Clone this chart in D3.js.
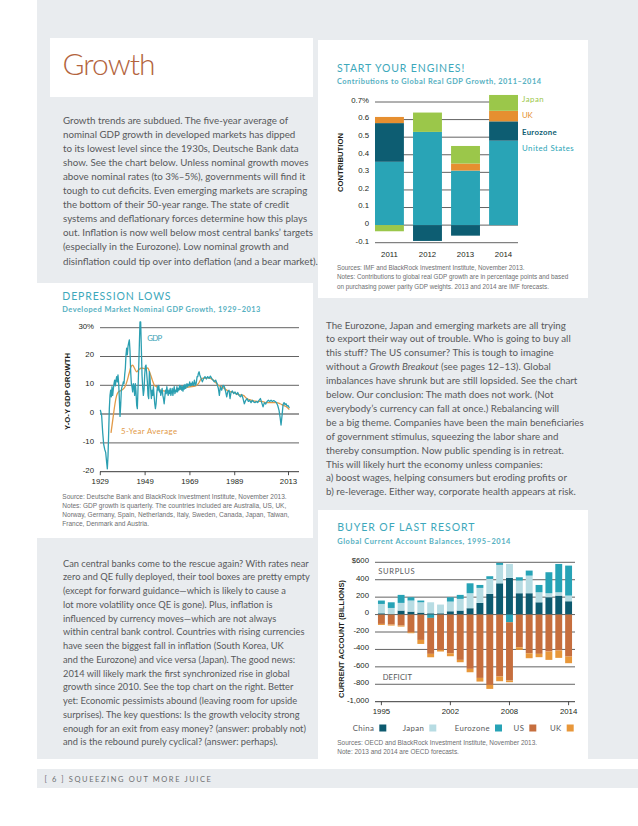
<!DOCTYPE html>
<html><head><meta charset="utf-8">
<script src="https://cdn.jsdelivr.net/npm/d3@7/dist/d3.min.js"></script>
<style>
html,body{margin:0;padding:0;background:#fff;}
svg{display:block;}
</style></head><body>
<svg id="page" width="638" height="826"></svg>
<script>
// ================= DATA =================
// Chart 1: Start your engines
const engineYears = ["2011", "2012", "2013", "2014"];
const engineSeries = ["United States", "Eurozone", "UK", "Japan"];
const engineUS = [0.36, 0.53, 0.31, 0.48];
const engineEurozone = [0.22, -0.09, -0.06, 0.11];
const engineUK = [0.035, 0, 0.04, 0.06];
const engineJapan = [-0.035, 0.11, 0.10, 0.09];
const engineTicks = [-0.1, 0, 0.1, 0.2, 0.3, 0.4, 0.5, 0.6, 0.7];
const engineTickLabels = ["-0.1", "0", "0.1", "0.2", "0.3", "0.4", "0.5", "0.6", "0.7%"];

// Chart 2: Depression lows (quarterly GDP growth)
const gdpYears = [1929.0,1929.6,1930.06,1930.5,1930.95,1931.4,1931.84,1932.14,1932.44,1932.74,1933.03,1933.33,1933.63,1933.93,1934.22,1934.52,1934.82,1935.12,1935.41,1935.71,1936.01,1936.31,1936.6,1936.9,1937.2,1937.5,1937.8,1938.09,1938.39,1938.69,1938.99,1939.28,1939.58,1939.88,1940.18,1940.47,1940.77,1941.07,1941.37,1941.66,1941.96,1942.26,1942.56,1942.86,1943.15,1943.45,1943.75,1944.05,1944.34,1944.64,1944.94,1945.24,1945.53,1945.83,1946.13,1946.43,1946.72,1947.02,1947.32,1947.62,1947.91,1948.21,1948.51,1948.81,1949.1,1949.4,1949.7,1950.0,1950.3,1950.6,1950.9,1951.2,1951.5,1951.8,1952.1,1952.4,1952.7,1953.0,1953.3,1953.6,1953.9,1954.2,1954.5,1954.8,1955.1,1955.4,1955.7,1956.0,1956.3,1956.6,1956.9,1957.2,1957.5,1957.8,1958.1,1958.4,1958.7,1959.0,1959.3,1959.6,1959.9,1960.2,1960.5,1960.8,1961.1,1961.4,1961.7,1962.0,1962.3,1962.6,1962.9,1963.2,1963.5,1963.8,1964.1,1964.4,1964.7,1965.0,1965.3,1965.6,1965.9,1966.2,1966.5,1966.8,1967.1,1967.4,1967.7,1968.0,1968.3,1968.6,1968.9,1969.2,1969.5,1969.8,1970.1,1970.4,1970.7,1971.0,1971.3,1971.6,1971.9,1972.2,1972.5,1972.8,1973.1,1973.4,1973.96,1974.55,1975.15,1975.74,1976.34,1976.93,1977.53,1978.13,1978.72,1979.32,1979.91,1980.51,1981.1,1981.7,1982.14,1982.59,1983.18,1983.78,1984.38,1984.97,1985.42,1985.86,1986.46,1986.9,1987.35,1987.95,1988.54,1989.14,1989.73,1990.33,1990.92,1991.52,1992.11,1992.71,1993.3,1993.9,1994.49,1995.09,1995.68,1996.28,1996.88,1997.47,1998.07,1998.66,1999.26,1999.85,2000.45,2001.04,2001.64,2002.23,2002.83,2003.42,2004.02,2004.61,2005.21,2005.8,2006.4,2007.0,2007.59,2008.19,2008.78,2009.23,2009.67,2010.12,2010.57,2011.01,2011.46,2011.9,2012.35,2012.8,2013.39];
const gdpValues = [1.5,-0.5,-6.3,-10.4,-12.2,-13.3,-16.8,-19.0,-14.5,-6.3,1.9,6.5,8.3,6.0,9.5,6.5,8.7,10.6,11.8,9.8,11.8,13.0,11.2,13.6,10.6,5.4,-0.8,3.0,8.3,9.5,10.0,11.2,10.6,13.6,15.9,20.6,22.9,20.6,23.5,24.7,25.8,21.8,14.7,10.6,9.5,7.7,10.6,9.5,6.5,10.6,7.7,3.0,1.9,8.9,15.9,24.1,32.0,32.0,22.9,13.6,9.5,6.5,8.3,13.6,16.5,17.0,14.2,11.2,6.5,5.4,14.7,12.4,8.3,5.4,8.3,6.5,9.5,6.5,3.6,1.9,3.6,7.1,9.5,8.3,10.0,7.7,8.3,6.5,7.7,8.9,6.5,5.4,3.6,6.0,8.3,7.1,9.5,7.7,6.5,8.3,7.1,8.9,6.5,7.7,8.9,6.5,8.3,9.5,7.1,8.3,7.7,9.5,7.7,8.9,8.3,10.0,8.7,9.8,8.3,9.5,8.0,10.0,8.7,10.3,8.9,9.7,10.6,9.5,10.3,10.0,11.2,9.8,10.6,10.0,11.2,10.3,10.0,11.8,10.6,10.0,11.2,13.0,13.0,14.2,14.7,13.6,12.4,11.2,12.4,13.0,12.2,13.0,12.4,13.2,12.4,11.8,11.2,11.8,10.6,8.9,6.5,9.5,8.3,10.0,9.5,7.7,6.0,7.7,8.3,5.4,7.5,8.0,7.1,7.7,6.8,7.5,6.5,6.0,6.8,5.4,3.6,4.8,5.4,4.4,4.8,4.0,4.8,4.2,4.0,4.4,4.0,4.8,5.4,4.0,2.5,4.0,3.5,4.4,4.8,4.4,4.8,4.4,4.7,4.4,4.0,3.0,1.3,-1.0,-3.8,-0.5,3.3,4.0,3.3,3.6,2.8,3.0,2.1];
const avgYears = [1933.78,1934.82,1935.56,1936.31,1937.05,1938.54,1940.03,1941.07,1941.81,1942.71,1943.45,1944.19,1945.24,1945.98,1947.47,1948.96,1950.15,1951.19,1952.23,1953.12,1954.16,1955.65,1957.88,1960.12,1962.35,1964.58,1966.81,1969.04,1971.28,1972.77,1974.26,1977.23,1979.46,1981.7,1983.93,1986.16,1988.39,1990.63,1992.86,1994.35,1996.58,1998.81,2001.04,2003.27,2005.51,2007.74,2009.23,2010.72,2012.2,2013.39];
const avgValues = [-6.5,-0.5,3.6,6.5,7.7,8.3,9.5,11.8,14.0,16.5,17.0,16.0,14.7,15.3,16.0,15.7,16.0,14.2,11.8,10.0,9.5,8.3,8.0,7.7,8.0,8.7,9.1,9.5,9.7,10.6,12.4,12.6,11.8,10.0,9.1,8.0,7.5,6.8,6.5,5.4,4.8,4.4,4.4,4.0,4.0,4.0,3.6,3.0,2.5,1.6];
const gdpTicks = [-20, -10, 0, 10, 20, 30];
const gdpTickLabels = ["-20", "-10", "0", "10", "20", "30%"];
const gdpXTicks = [1929, 1949, 1969, 1989, 2013];

// Chart 3: Buyer of last resort ($ billions)
const caYears = [1995,1996,1997,1998,1999,2000,2001,2002,2003,2004,2005,2006,2007,2008,2009,2010,2011,2012,2013,2014];
const caSeries = ["China", "Japan", "Eurozone", "US", "UK"];
const caChina    = [15, 5, 46, 34, 23, 15, 15, 38, 46, 73, 134, 237, 359, 421, 245, 245, 141, 199, 218, 153];
const caJapan    = [107, 71, 88, 127, 118, 126, 100, 111, 134, 172, 172, 172, 211, 160, 145, 202, 115, 46, 38, 65];
const caEurozone = [39, 65, 92, 38, 20, -38, 0, 50, 46, 114, 34, 31, 23, -88, 38, 58, 84, 241, 325, 344];
const caUS       = [-107, -115, -126, -203, -291, -413, -405, -444, -520, -623, -727, -807, -711, -669, -375, -444, -451, -424, -413, -482];
const caUK       = [-12, -11, -12, -11, -46, -39, -19, -34, -27, -39, -42, -46, -54, -19, -30, -57, -38, -96, -84, -76];
const caTicks = [-1000, -800, -600, -400, -200, 0, 200, 400, 600];
const caTickLabels = ["-1,000", "-800", "-600", "-400", "-200", "0", "200", "400", "$600"];
const caXTicks = [1995, 2002, 2008, 2014];

// ================= STYLE =================
const GRAY = "#e9ecef";
const BODY = "Lato, 'Open Sans', 'Noto Sans', sans-serif";
const CHART = "'Liberation Sans', Arial, sans-serif";
const NARROW = "'Liberation Sans Narrow', 'Arial Narrow', 'Liberation Sans', sans-serif";
const TEAL_T = "#3da8bb";
const INK = "#231f20";
const engineColors = {"United States": "#29a4b6", "Eurozone": "#0d5d72", "UK": "#e68f30", "Japan": "#9bc74a"};
const caColors = {"China": "#0d5a6f", "Japan": "#b7dce3", "Eurozone": "#27a3b6", "US": "#c66e3e", "UK": "#e8973a"};

const svg = d3.select("#page");

function T(g, x, y, s, o) {
  const t = g.append("text").attr("x", x).attr("y", y).text(s);
  if (o) for (const k in o) t.attr(k, o[k]);
  return t;
}
function fit(t, w, mode) { t.attr("textLength", w).attr("lengthAdjust", mode || "spacingAndGlyphs"); return t; }

function para(lines, x, y0, lh, refIdx, refW, opts) {
  const g = svg.append("g").attr("font-family", opts.family).attr("fill", opts.fill).attr("font-size", 10);
  const nodes = lines.map((ln, i) => {
    const t = g.append("text").attr("x", x).attr("y", y0 + i * lh);
    if (Array.isArray(ln)) {
      ln.forEach(seg => t.append("tspan").attr("font-style", seg[1] ? "italic" : null).text(seg[0]));
    } else t.text(ln);
    return t;
  });
  const len = nodes[refIdx].node().getComputedTextLength();
  g.attr("font-size", 10 * refW / len);
  return g;
}

// ================= PAGE BACKGROUND =================
svg.append("rect").attr("width", 638).attr("height", 826).attr("fill", "#fff");
svg.append("rect").attr("x", 37).attr("y", 0).attr("width", 601).attr("height", 759).attr("fill", GRAY);
svg.append("rect").attr("x", 37).attr("y", 769).attr("width", 601).attr("height", 19).attr("fill", GRAY);
svg.append("rect").attr("x", 50).attr("y", 38).attr("width", 263).attr("height", 59).attr("fill", "#fff");
svg.append("rect").attr("x", 37).attr("y", 283).attr("width", 276).attr("height", 255).attr("fill", "#fff");
svg.append("rect").attr("x", 318).attr("y", 40).attr("width", 270).attr("height", 258).attr("fill", "#fff");
svg.append("rect").attr("x", 318).attr("y", 510).attr("width", 270).attr("height", 250).attr("fill", "#fff");

// ================= HEADLINE & TEXT =================
fit(T(svg, 62.5, 75, "Growth", {"font-family": BODY, "font-weight": 300, "font-size": 30, fill: "#b3643d"}), 93, "spacing");

const bodyOpts = {family: BODY, fill: "#58595b"};
para([
  "Growth trends are subdued. The five-year average of",
  "nominal GDP growth in developed markets has dipped",
  "to its lowest level since the 1930s, Deutsche Bank data",
  "show. See the chart below. Unless nominal growth moves",
  "above nominal rates (to 3%–5%), governments will find it",
  "tough to cut deficits. Even emerging markets are scraping",
  "the bottom of their 50-year range. The state of credit",
  "systems and deflationary forces determine how this plays",
  "out. Inflation is now well below most central banks’ targets",
  "(especially in the Eurozone). Low nominal growth and",
  "disinflation could tip over into deflation (and a bear market)."
], 63, 123.5, 14.1, 3, 246, bodyOpts);

para([
  "Can central banks come to the rescue again? With rates near",
  "zero and QE fully deployed, their tool boxes are pretty empty",
  "(except for forward guidance—which is likely to cause a",
  "lot more volatility once QE is gone). Plus, inflation is",
  "influenced by currency moves—which are not always",
  "within central bank control. Countries with rising currencies",
  "have seen the biggest fall in inflation (South Korea, UK",
  "and the Eurozone) and vice versa (Japan). The good news:",
  "2014 will likely mark the first synchronized rise in global",
  "growth since 2010. See the top chart on the right. Better",
  "yet: Economic pessimists abound (leaving room for upside",
  "surprises). The key questions: Is the growth velocity strong",
  "enough for an exit from easy money? (answer: probably not)",
  "and is the rebound purely cyclical? (answer: perhaps)."
], 63, 566.5, 13.75, 0, 246, bodyOpts);

para([
  "The Eurozone, Japan and emerging markets are all trying",
  "to export their way out of trouble. Who is going to buy all",
  "this stuff? The US consumer? This is tough to imagine",
  [["without a "], ["Growth Breakout", true], [" (see pages 12–13). Global"]],
  "imbalances have shrunk but are still lopsided. See the chart",
  "below. Our conclusion: The math does not work. (Not",
  "everybody’s currency can fall at once.) Rebalancing will",
  "be a big theme. Companies have been the main beneficiaries",
  "of government stimulus, squeezing the labor share and",
  "thereby consumption. Now public spending is in retreat.",
  "This will likely hurt the economy unless companies:",
  "a) boost wages, helping consumers but eroding profits or",
  "b) re-leverage. Either way, corporate health appears at risk."
], 326, 328.5, 13.9, 12, 250, bodyOpts);

// footer
fit(T(svg, 44.5, 782, "[ 6 ]   SQUEEZING OUT MORE JUICE", {"font-family": BODY, "font-size": 7.5, fill: "#6d6e70", "letter-spacing": 1.6}), 168, "spacing");

// ================= CHART 1: START YOUR ENGINES =================
(function () {
  const g = svg.append("g");
  fit(T(g, 337, 72, "START YOUR ENGINES!", {"font-family": BODY, "font-size": 10.5, fill: TEAL_T, "letter-spacing": 0.8}), 128, "spacing");
  fit(T(g, 337, 84, "Contributions to Global Real GDP Growth, 2011–2014", {"font-family": BODY, "font-size": 7.4, "font-weight": 700, fill: "#55b0c1"}), 204, "spacing");

  const x = d3.scaleBand().domain(engineYears).range([375, 518]).paddingInner(0.24).paddingOuter(0);
  const y = d3.scaleLinear().domain([-0.1, 0.7]).range([242.7, 102]);

  g.selectAll("line.grid").data(engineTicks).join("line")
    .attr("x1", 375).attr("x2", 518).attr("y1", d => y(d)).attr("y2", d => y(d))
    .attr("stroke", "#3b3b3b").attr("stroke-width", 0.8);
  g.selectAll("text.tick").data(engineTicks).join("text")
    .attr("x", 369).attr("y", d => y(d) + 0.8).attr("text-anchor", "end")
    .attr("font-family", CHART).attr("font-size", 7.8).attr("fill", INK)
    .text((d, i) => engineTickLabels[i]);

  const rows = engineYears.map((yr, i) => ({year: yr, "United States": engineUS[i], "Eurozone": engineEurozone[i], "UK": engineUK[i], "Japan": engineJapan[i]}));
  const stacked = d3.stack().keys(engineSeries).offset(d3.stackOffsetDiverging)(rows);
  g.selectAll("g.ser").data(stacked).join("g").attr("fill", s => engineColors[s.key])
    .selectAll("rect").data(s => s).join("rect")
    .attr("x", d => x(d.data.year)).attr("width", x.bandwidth())
    .attr("y", d => y(Math.max(d[0], d[1]))).attr("height", d => Math.abs(y(d[0]) - y(d[1])));

  g.selectAll("text.yr").data(engineYears).join("text")
    .attr("x", d => x(d) + x.bandwidth() / 2).attr("y", 257).attr("text-anchor", "middle")
    .attr("font-family", CHART).attr("font-size", 7.8).attr("fill", INK).text(d => d);

  fit(T(g, 0, 0, "CONTRIBUTION", {"font-family": CHART, "font-size": 7.4, "font-weight": 700, fill: INK, "text-anchor": "middle", transform: "translate(342.5,162.5) rotate(-90)"}), 59);

  const legendY = [151, 135, 118, 102];
  const legendW = [52, 35, 11, 22];
  engineSeries.forEach((s, i) => {
    fit(T(g, 522, legendY[i], s, {"font-family": BODY, "font-size": 7.8, fill: engineColors[s], "font-weight": s === "Eurozone" ? 700 : 400, "letter-spacing": 0.3}), legendW[i], "spacing");
  });

  const src = para([
    "Sources: IMF and BlackRock Investment Institute, November 2013.",
    "Notes: Contributions to global real GDP growth are in percentage points and based",
    "on purchasing power parity GDP weights. 2013 and 2014 are IMF forecasts."
  ], 337, 269.5, 9.7, 1, 232, {family: NARROW, fill: "#6d6e70"});
})();

// ================= CHART 2: DEPRESSION LOWS =================
(function () {
  const g = svg.append("g");
  fit(T(g, 62.3, 300, "DEPRESSION LOWS", {"font-family": BODY, "font-size": 10.5, fill: TEAL_T, "letter-spacing": 0.8}), 109, "spacing");
  fit(T(g, 62.3, 312, "Developed Market Nominal GDP Growth, 1929–2013", {"font-family": BODY, "font-size": 7.4, "font-weight": 700, fill: "#55b0c1"}), 198, "spacing");

  const x = d3.scaleLinear().domain([1929, 2013]).range([100.3, 288.5]);
  const y = d3.scaleLinear().domain([-20, 30]).range([471.7, 327.7]);

  g.selectAll("line.grid").data(gdpTicks.filter(d => d !== 0 && d !== -20)).join("line")
    .attr("x1", 100).attr("x2", 299).attr("y1", d => y(d)).attr("y2", d => y(d))
    .attr("stroke", "#3b3b3b").attr("stroke-width", 0.8);
  g.append("line").attr("x1", 100).attr("x2", 299).attr("y1", y(0)).attr("y2", y(0))
    .attr("stroke", "#9d9d9d").attr("stroke-width", 2);
  g.append("line").attr("x1", 100).attr("x2", 299).attr("y1", y(-20)).attr("y2", y(-20))
    .attr("stroke", "#222").attr("stroke-width", 0.9);
  g.selectAll("line.xt").data(gdpXTicks).join("line")
    .attr("x1", d => x(d)).attr("x2", d => x(d)).attr("y1", y(-20)).attr("y2", y(-20) + 3.5)
    .attr("stroke", "#222").attr("stroke-width", 0.8);

  g.selectAll("text.tick").data(gdpTicks).join("text")
    .attr("x", 94).attr("y", d => y(d) + 0.8).attr("text-anchor", "end")
    .attr("font-family", CHART).attr("font-size", 7.8).attr("fill", INK)
    .text((d, i) => gdpTickLabels[i]);
  g.selectAll("text.xl").data(gdpXTicks).join("text")
    .attr("x", d => x(d)).attr("y", 484).attr("text-anchor", "middle")
    .attr("font-family", CHART).attr("font-size", 7.8).attr("fill", INK).text(d => d);

  const gdp = gdpYears.map((yr, i) => [yr, gdpValues[i]]);
  const avg = avgYears.map((yr, i) => [yr, avgValues[i]]);
  g.append("path").datum(avg).attr("fill", "none").attr("stroke", "#e29a48").attr("stroke-width", 1.3)
    .attr("d", d3.line().x(d => x(d[0])).y(d => y(d[1])).curve(d3.curveMonotoneX));
  g.append("path").datum(gdp).attr("fill", "none").attr("stroke", "#2b9fb1").attr("stroke-width", 1.3)
    .attr("stroke-linejoin", "round")
    .attr("d", d3.line().x(d => x(d[0])).y(d => y(d[1])));

  fit(T(g, 147.3, 340.5, "GDP", {"font-family": BODY, "font-size": 7.8, fill: "#3aa3b5", "letter-spacing": 1}), 16, "spacing");
  fit(T(g, 121, 434, "5-Year Average", {"font-family": BODY, "font-size": 7.8, fill: "#e29a48"}), 56, "spacing");

  fit(T(g, 0, 0, "Y-O-Y GDP GROWTH", {"font-family": CHART, "font-size": 7.4, "font-weight": 700, fill: INK, "text-anchor": "middle", transform: "translate(69.5,391.5) rotate(-90)"}), 77);

  para([
    "Source: Deutsche Bank and BlackRock Investment Institute, November 2013.",
    "Notes: GDP growth is quarterly. The countries included are Australia, US, UK,",
    "Norway, Germany, Spain, Netherlands, Italy, Sweden, Canada, Japan, Taiwan,",
    "France, Denmark and Austria."
  ], 62.3, 498.5, 9, 0, 225, {family: NARROW, fill: "#6d6e70"});
})();

// ================= CHART 3: BUYER OF LAST RESORT =================
(function () {
  const g = svg.append("g");
  fit(T(g, 337.3, 531, "BUYER OF LAST RESORT", {"font-family": BODY, "font-size": 10.5, fill: TEAL_T, "letter-spacing": 0.8}), 138, "spacing");
  fit(T(g, 337.3, 543.5, "Global Current Account Balances, 1995–2014", {"font-family": BODY, "font-size": 7.4, "font-weight": 700, fill: "#55b0c1"}), 173, "spacing");

  const x = d3.scaleBand().domain(caYears).range([375, 575]).paddingInner(0.3).paddingOuter(0.3);
  const y = d3.scaleLinear().domain([-1000, 600]).range([701.7, 562.3]);

  g.selectAll("line.grid").data(caTicks.filter(d => d !== -1000)).join("line")
    .attr("x1", 375).attr("x2", 575).attr("y1", d => y(d)).attr("y2", d => y(d))
    .attr("stroke", "#3b3b3b").attr("stroke-width", 0.8);
  g.append("line").attr("x1", 375).attr("x2", 575).attr("y1", y(-1000)).attr("y2", y(-1000))
    .attr("stroke", "#222").attr("stroke-width", 0.9);
  g.selectAll("line.xt").data(caXTicks).join("line")
    .attr("x1", d => x(d) + x.bandwidth() / 2).attr("x2", d => x(d) + x.bandwidth() / 2)
    .attr("y1", y(-1000)).attr("y2", y(-1000) + 3.5).attr("stroke", "#222").attr("stroke-width", 0.8);

  g.selectAll("text.tick").data(caTicks).join("text")
    .attr("x", 369).attr("y", d => y(d) + 0.8).attr("text-anchor", "end")
    .attr("font-family", CHART).attr("font-size", 7.8).attr("fill", INK)
    .text((d, i) => caTickLabels[i]);
  g.selectAll("text.xl").data(caXTicks).join("text")
    .attr("x", d => x(d) + x.bandwidth() / 2).attr("y", 714).attr("text-anchor", "middle")
    .attr("font-family", CHART).attr("font-size", 7.8).attr("fill", INK).text(d => d);

  const rows = caYears.map((yr, i) => ({year: yr, China: caChina[i], Japan: caJapan[i], Eurozone: caEurozone[i], US: caUS[i], UK: caUK[i]}));
  const stacked = d3.stack().keys(caSeries).offset(d3.stackOffsetDiverging)(rows);
  g.selectAll("g.ser").data(stacked).join("g").attr("fill", s => caColors[s.key])
    .selectAll("rect").data(s => s).join("rect")
    .attr("x", d => x(d.data.year)).attr("width", x.bandwidth())
    .attr("y", d => y(Math.max(d[0], d[1]))).attr("height", d => Math.abs(y(d[0]) - y(d[1])));

  fit(T(g, 378.3, 574, "SURPLUS", {"font-family": BODY, "font-size": 7.6, fill: "#58595b", "letter-spacing": 0.8}), 37, "spacing");
  fit(T(g, 382.7, 680, "DEFICIT", {"font-family": BODY, "font-size": 7.6, fill: "#58595b", "letter-spacing": 0.8}), 30, "spacing");

  fit(T(g, 0, 0, "CURRENT ACCOUNT (BILLIONS)", {"font-family": CHART, "font-size": 7.4, "font-weight": 700, fill: INK, "text-anchor": "middle", transform: "translate(343.5,639) rotate(-90)"}), 118);

  // legend (layout positions)
  const swatchX = [379.3, 429.3, 495, 529.3, 566.7];
  caSeries.forEach((s, i) => {
    T(g, swatchX[i] - 5, 731, s, {"font-family": BODY, "font-size": 7.8, fill: "#58595b", "text-anchor": "end", "letter-spacing": 0.4});
    g.append("rect").attr("x", swatchX[i]).attr("y", 724.5).attr("width", 7).attr("height", 7).attr("fill", caColors[s]);
  });

  para([
    "Sources: OECD and BlackRock Investment Institute, November 2013.",
    "Note: 2013 and 2014 are OECD forecasts."
  ], 337.3, 744.5, 9.5, 0, 200, {family: NARROW, fill: "#6d6e70"});
})();
</script>
</body></html>
